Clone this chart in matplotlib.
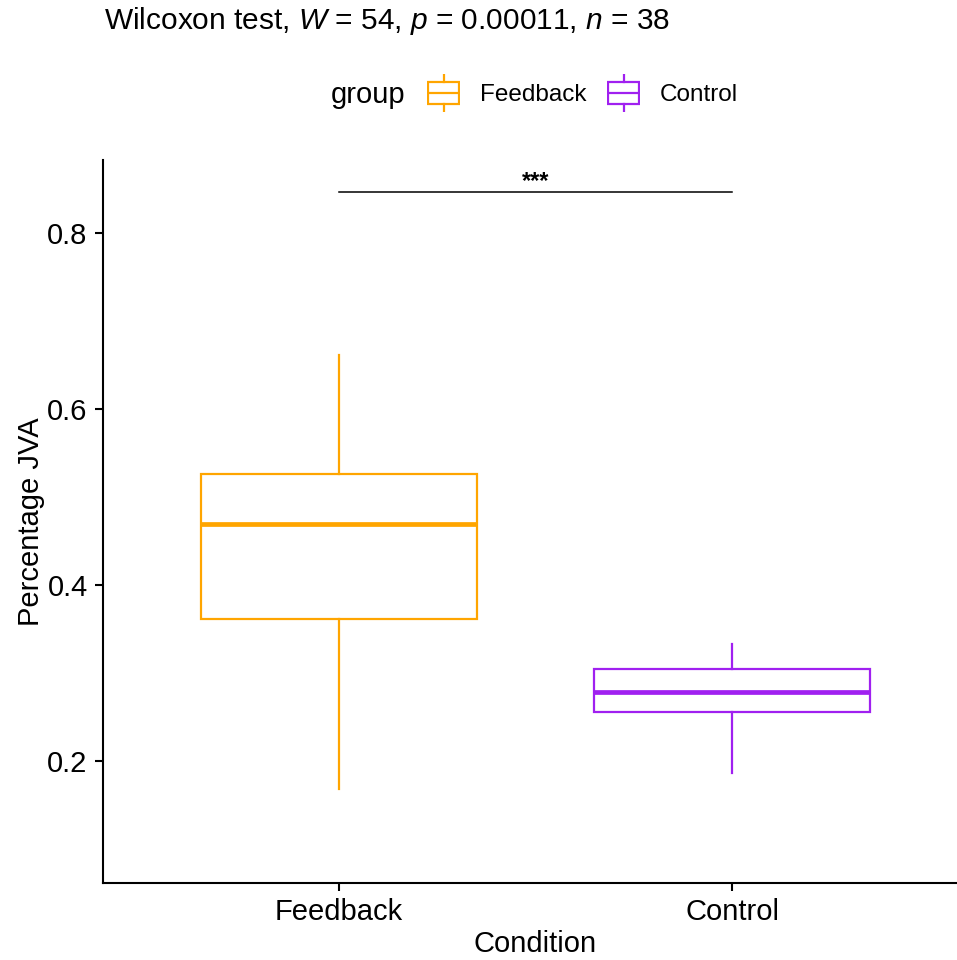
import matplotlib
matplotlib.use('Agg')
import matplotlib.pyplot as plt
from matplotlib.patches import Rectangle

plt.rcParams['font.family'] = ['Liberation Sans', 'DejaVu Sans']
plt.rcParams['mathtext.fontset'] = 'custom'
plt.rcParams['mathtext.it'] = 'Liberation Sans:italic'
plt.rcParams['mathtext.rm'] = 'Liberation Sans'

# box statistics
groups = ['Feedback', 'Control']
colors = ['#FFA500', '#A020F0']
whislo = [0.168, 0.186]
q1 = [0.361, 0.256]
med = [0.469, 0.278]
q3 = [0.526, 0.305]
whishi = [0.661, 0.333]
bracket_y = 0.847
signif = '***'
title = 'Wilcoxon test, $\\mathit{W}$ = 54, $\\mathit{p}$ = 0.00011, $\\mathit{n}$ = 38'

W, H = 957, 960
fig = plt.figure(figsize=(W / 100, H / 100), dpi=100)
ax = fig.add_axes([103 / W, (H - 883) / H, (968 - 103) / W, (883 - 160) / H])

stats = []
for i, g in enumerate(groups):
    stats.append(dict(label=g, whislo=whislo[i], q1=q1[i], med=med[i],
                      q3=q3[i], whishi=whishi[i], fliers=[]))

for i, s in enumerate(stats):
    c = colors[i]
    ax.bxp([s], positions=[i + 1], widths=0.7, showcaps=False, showfliers=False,
           patch_artist=True,
           boxprops=dict(facecolor='white', edgecolor=c, linewidth=1.6),
           whiskerprops=dict(color=c, linewidth=1.6),
           medianprops=dict(color=c, linewidth=3.4, solid_capstyle='butt'))

ax.set_xlim(0.4, 2.6)
ax.set_ylim(0.0614, 0.883)
ax.set_xticks([1, 2])
ax.set_xticklabels(groups)
ax.set_yticks([0.2, 0.4, 0.6, 0.8])
ax.set_yticklabels(['0.2', '0.4', '0.6', '0.8'])
for sp in ['top', 'right']:
    ax.spines[sp].set_visible(False)
for sp in ['left', 'bottom']:
    ax.spines[sp].set_linewidth(1.5)
ax.tick_params(axis='both', length=6, width=1.5, labelsize=21, colors='black', pad=5)
ax.set_xlabel('Condition', fontsize=21, labelpad=3)
ax.set_ylabel('Percentage JVA', fontsize=21, labelpad=2)

# significance bracket
ax.plot([1, 2], [bracket_y, bracket_y], color='black', linewidth=1.1)
ax.text(1.5, bracket_y - 0.001, signif, ha='center', va='bottom', fontsize=17,
        fontweight='bold')

# title
fig.text(104 / W, 1 - 21 / H, title, ha='left', va='center', fontsize=21.5)

# legend drawn manually
fig.text(331 / W, 1 - 95 / H, 'group', ha='left', va='center', fontsize=21)
key_x = [427, 607]
text_x = [480, 660]
for i, g in enumerate(groups):
    kax = fig.add_axes([key_x[i] / W, 1 - 112 / H, 33 / W, 38 / H])
    kax.set_xlim(0, 33)
    kax.set_ylim(112, 74)
    kax.axis('off')
    kax.add_patch(Rectangle((1, 82), 31, 22, fill=False, edgecolor=colors[i], linewidth=1.6))
    kax.plot([1, 32], [93, 93], color=colors[i], linewidth=1.6)
    kax.plot([16.5, 16.5], [75, 82], color=colors[i], linewidth=1.6)
    kax.plot([16.5, 16.5], [104, 111], color=colors[i], linewidth=1.6)
    fig.text(text_x[i] / W, 1 - 95 / H, g, ha='left', va='center', fontsize=17.5)

fig.savefig('out.png', dpi=100)
